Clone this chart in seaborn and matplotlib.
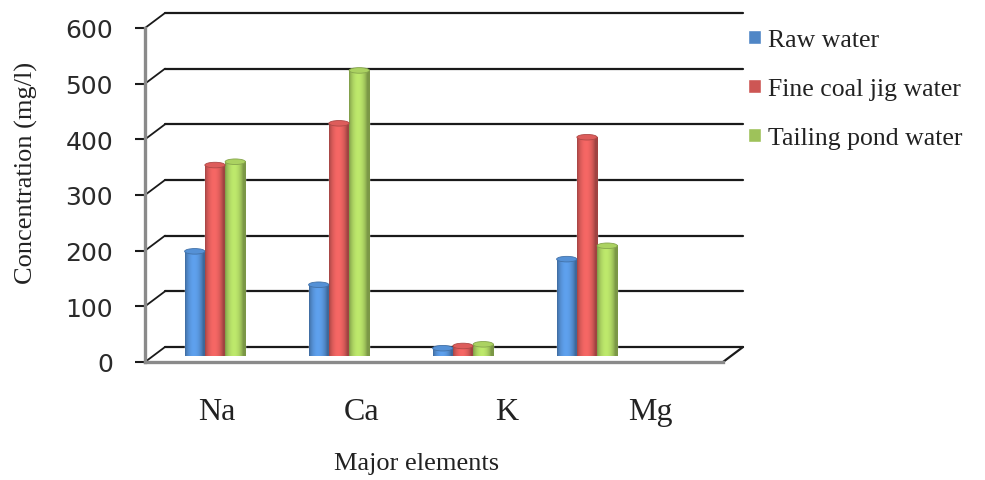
import numpy as np
import pandas as pd
import matplotlib.pyplot as plt
import matplotlib.transforms as mtransforms
from matplotlib.patches import ConnectionPatch, Ellipse
import seaborn as sns

#------------------------------------------
elements=['Na', 'Ca', 'K', 'Mg']
series=['Raw water', 'Fine coal jig water', 'Tailing pond water']
raw_water=[188, 128, 14, 174]
jig_water=[343, 418, 18, 393]
pond_water=[349, 513, 21, 198]
yticks=[0, 100, 200, 300, 400, 500, 600]
colors=['#4F86C6', '#CD5654', '#9EC25A']

df=pd.DataFrame({'Element': elements*3,
                 'Water': np.repeat(series, len(elements)),
                 'Concentration': raw_water+jig_water+pond_water})

#------------------------------------------
sns.set_style('white')
plt.rcParams['font.family']=['Liberation Serif', 'DejaVu Serif']

W, H=985, 481
fig=plt.figure(figsize=(W/100, H/100), dpi=100)

def frac(x0, y0, x1, y1):
    #pixel box (top-left origin) -> figure fraction
    return [x0/W, 1-y1/H, (x1-x0)/W, (y1-y0)/H]

#front plane (axis, ticks, labels)
ax=fig.add_axes(frac(145, 29, 723, 363))
ax.set_xlim(-0.5, 3.5)
ax.set_ylim(0, 600)
back=ax.transData+mtransforms.ScaledTranslation(0.20, 0.15, fig.dpi_scale_trans)

#back wall gridlines + diagonal connectors
for v in yticks:
    ax.plot([-0.5, 3.5], [v, v], transform=back, color='#1a1a1a', lw=1.6, clip_on=False, zorder=1)
    cp=ConnectionPatch(xyA=(-0.5, v), coordsA=ax.transData, xyB=(-0.5, v), coordsB=back,
                       color='#1a1a1a', lw=1.3)
    ax.add_artist(cp)
cp=ConnectionPatch(xyA=(3.5, 0), coordsA=ax.transData, xyB=(3.5, 0), coordsB=back,
                   color='#1a1a1a', lw=1.6)
ax.add_artist(cp)

sns.despine(ax=ax, top=True, right=True)
for s in ['left', 'bottom']:
    ax.spines[s].set_color('#8a8a8a')
    ax.spines[s].set_linewidth(2.4)
ax.set_yticks(yticks)
ax.set_xticks(range(len(elements)))
ax.set_xticklabels(elements)
ax.tick_params(axis='y', left=True, length=7, width=1.5, color='#1a1a1a', pad=16, labelsize=18, labelcolor='#2a2a2a')
ax.tick_params(axis='x', length=0, pad=25, labelsize=23, labelcolor='#222222')
for lbl in ax.get_yticklabels():
    lbl.set_family('DejaVu Sans')
ax.set_ylabel('Concentration (mg/l)', fontsize=19, color='#222222')
ax.yaxis.set_label_coords(-0.185, 0.569)
ax.set_xlabel('Major elements', fontsize=19, color='#222222')
ax.xaxis.set_label_coords(0.47, -0.27)
ax.patch.set_alpha(0)

#bars on mid-depth plane
bx=fig.add_axes(frac(153, 23, 649, 357))
sns.barplot(data=df, x='Element', y='Concentration', hue='Water', palette=colors,
            saturation=1, width=0.49, ax=bx)
bx.set_xlim(-0.5, 3.5)
bx.set_ylim(0, 600)
bx.axis('off')

#cylinder shading
t=np.linspace(0, 1, 60)
shade=0.78+0.42*np.sin(np.pi*np.clip(t*1.15, 0, 1))**0.7
for p in list(bx.patches):
    h=p.get_height()
    if h<=0:
        continue
    x0=p.get_x(); w=p.get_width()
    rgb=np.array(p.get_facecolor()[:3])
    img=np.clip(rgb[None, None, :]*shade[None, :, None], 0, 1)
    bx.imshow(img, extent=[x0, x0+w, 0, h], aspect='auto', clip_path=p, zorder=p.get_zorder()+0.1,
              interpolation='bilinear')
    cap=Ellipse((x0+w/2, h), w, 10, facecolor=np.clip(rgb*1.08, 0, 1),
                edgecolor=np.clip(rgb*0.85, 0, 1), lw=0.6, zorder=p.get_zorder()+0.2)
    bx.add_patch(cap)
bx.set_xlim(-0.5, 3.5)
bx.set_ylim(0, 600)

#legend
handles, labels=bx.get_legend_handles_labels()
bx.legend(handles, labels, loc='center left', bbox_to_anchor=(735/W, 1-90/H),
          bbox_transform=fig.transFigure, frameon=False, borderpad=0, fontsize=18.5,
          handlelength=0.5, handleheight=0.5, handletextpad=0.3, labelspacing=1.05,
          labelcolor='#222222')

plt.savefig('out.png', dpi=100)
plt.close()
